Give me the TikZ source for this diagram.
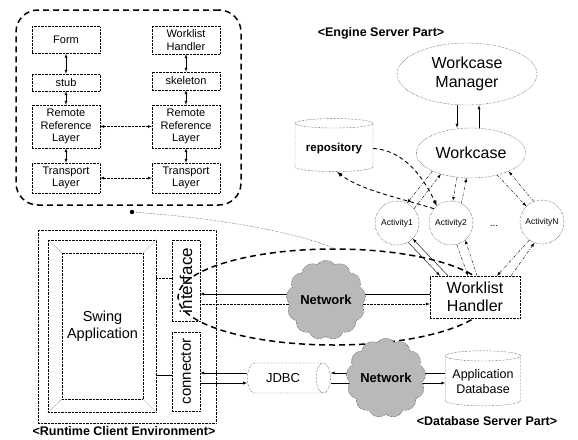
\documentclass[tikz,border=0pt]{standalone}
\usepackage{fontspec}
\setmainfont{Liberation Sans}
\usetikzlibrary{shapes.geometric,shapes.symbols,calc}
\NewDocumentCommand\fsz{mm}{\fontsize{#1}{#2}\selectfont}

\tikzset{
  box/.style={draw, densely dotted, align=center, inner sep=1pt},
  smallbox/.style={box, minimum width=68, font=\fsz{11}{12.5}},
  panel/.style={draw, line width=1.5pt, dash pattern=on 6pt off 4pt, rounded corners=22pt},
  flow/.style={->, dash pattern=on 3pt off 1.5pt on 0.8pt off 1.5pt},
  repoline/.style={->, line width=0.9pt, dash pattern=on 4pt off 3pt},
  act/.style={circle, draw, densely dotted, minimum size=44, inner sep=0pt, font=\fsz{8.5}{9}},
  dbcyl/.style={cylinder, shape border rotate=90, draw, densely dotted, aspect=0.15, align=center},
  net/.style={cloud, cloud puffs=13, cloud puff arc=110, draw, densely dotted, fill=gray!55, inner sep=0pt, font=\bfseries\fsz{13}{14}},
  tag/.style={font=\bfseries\fsz{12.5}{14}}
}

\begin{document}
\begin{tikzpicture}[>=latex, x=1pt, y=-1pt]
  \useasboundingbox (0,0) rectangle (578,439);

  % RMI layers
  \node[panel, minimum width=225, minimum height=195] (rmi) at (128.5,107.5) {};
  \node[smallbox, minimum height=27] (form) at (66,40) {Form};
  \node[smallbox, minimum height=17] (stub) at (66,82.5) {stub};
  \node[smallbox, minimum height=43] (rrl1) at (66,126.5) {Remote\\Reference\\Layer};
  \node[smallbox, minimum height=30] (tl1) at (66,178) {Transport\\Layer};
  \node[smallbox, minimum height=28] (wlh) at (186,40) {Worklist\\Handler};
  \node[smallbox, minimum height=18] (skel) at (186,81) {skeleton};
  \node[smallbox, minimum height=43] (rrl2) at (186,126.5) {Remote\\Reference\\Layer};
  \node[smallbox, minimum height=30] (tl2) at (186,178) {Transport\\Layer};
  \draw[<->] (form) -- (stub);
  \draw[<->] (stub) -- (rrl1);
  \draw[<->] (rrl1) -- (tl1);
  \draw[<->] (wlh) -- (skel);
  \draw[<->] (skel) -- (rrl2);
  \draw[<->] (rrl2) -- (tl2);
  \draw[<->, densely dotted] (rrl1) -- (rrl2);
  \draw[<->, densely dotted] (tl1) -- (tl2);

  % engine server
  \node[tag] (enginetag) at (381,33) {<Engine Server Part>};
  \node[ellipse, draw, densely dotted, minimum width=140, minimum height=62, align=center, font=\fsz{16}{19}] (wcm) at (467,74) {Workcase\\Manager};
  \node[ellipse, draw, densely dotted, minimum width=92, minimum height=50, font=\fsz{16}{19}] (wc) at (471,153) {Workcase};
  \node[dbcyl, minimum width=78, minimum height=53, font=\bfseries\fsz{11.5}{13}] (repo) at (334,148.5) {repository};
  \node[act] (a1) at (397,223) {Activity1};
  \node[act] (a2) at (451,223) {Activity2};
  \node[act] (an) at (542,222) {ActivityN};
  \node[font=\fsz{10}{11}] (dots) at (494,226) {...};
  \draw[->] ([xshift=-10pt]wcm.south) -- ([xshift=-14pt]wc.north);
  \draw[->] ([xshift=8pt]wc.north) -- ([xshift=12pt]wcm.south);
  \draw[flow] (wc.205) -- (a1.63);
  \draw[flow] (a1.40) -- (wc.215);
  \draw[flow] (wc.240) -- (a2.85);
  \draw[flow] (a2.62) -- (wc.260);
  \draw[flow] (wc.-40) -- (an.135);
  \draw[flow] (an.112) -- (wc.-26);
  \draw[repoline] (repo.east) .. controls (405,150) and (425,180) .. (a2.130);
  \draw[repoline] (a2.140) .. controls (400,198) and (360,190) .. ([xshift=3pt]repo.south);

  % runtime client
  \node[box, minimum width=178, minimum height=193] (client) at (127,326.5) {};
  \node[box, minimum width=108, minimum height=172] (swing) at (102,326) {};
  \node[box, minimum width=81, minimum height=146, font=\fsz{14.5}{17}] (swingin) at (102.5,326) {Swing\\Application};
  \draw[densely dotted] (swing.north west) -- (swingin.north west);
  \draw[densely dotted] (swing.north east) -- (swingin.north east);
  \draw[densely dotted] (swing.south west) -- (swingin.south west);
  \draw[densely dotted] (swing.south east) -- (swingin.south east);
  \node[box, minimum width=28, minimum height=81] (iface) at (186,280.5) {};
  \node[rotate=90, font=\fsz{17}{18}] (ifacelbl) at (iface) {interface};
  \node[box, minimum width=28, minimum height=79] (conn) at (186,371.5) {};
  \node[rotate=90, font=\fsz{15}{16}] (connlbl) at (conn) {connector};
  \draw[densely dotted] ([yshift=2.5pt]iface.west) -- ([yshift=2.5pt]iface.west -| swing.east);
  \draw ([yshift=-3.5pt]conn.west) -- ([yshift=-3.5pt]conn.west -| swing.east);
  \node[tag] (clienttag) at (124,431) {<Runtime Client Environment>};

  % remote call area
  \node[ellipse, minimum width=312, minimum height=96, draw, line width=1.5pt, dash pattern=on 6pt off 4pt] (remote) at (334,297) {};
  \filldraw (132,212) circle (2pt) coordinate (zoomdot);
  \draw[densely dotted] (zoomdot) .. controls (230,219) and (300,234) .. (remote.north);

  % worklist handler
  \node[box, fill=white, minimum width=90, minimum height=42, font=\fsz{16}{18}] (wh) at (475,297) {Worklist\\Handler};
  \draw[->] (a1.-60) -- ([xshift=-35pt]wh.north);
  \draw[->] ([xshift=-27pt]wh.north) -- (a1.-45);
  \draw[flow] (a2.-75) -- ([xshift=-7pt]wh.north);
  \draw[flow] ([xshift=2pt]wh.north) -- (a2.-50);
  \draw[flow] (an.235) -- ([xshift=22pt]wh.north);
  \draw[flow] ([xshift=36pt]wh.north) -- (an.-110);
  \draw[->] ([yshift=3pt]wh.west) -- ([yshift=3pt]wh.west -| iface.east);
  \draw[->, densely dotted] ([yshift=-7pt]wh.west -| iface.east) -- ([yshift=-7pt]wh.west);
  \node[net, minimum width=72, minimum height=68] (net1) at (326,300) {Network};

  % database server
  \node[cylinder, draw, densely dotted, aspect=0.9, minimum width=30, minimum height=83, font=\fsz{13}{14}] (jdbc) at (283,378) {JDBC};
  \node[dbcyl, minimum width=75, minimum height=55, font=\fsz{12.5}{15}] (appdb) at (483,382) {Application\\Database};
  \draw[->] ([yshift=5pt]jdbc.west) -- ([yshift=5pt]jdbc.west -| conn.east);
  \draw[->] ([yshift=-5pt]jdbc.west -| conn.east) -- ([yshift=-5pt]jdbc.west);
  \draw[->] ([yshift=5pt]jdbc.east -| appdb.west) -- ([yshift=5pt]jdbc.east);
  \draw[->] ([yshift=-5pt]jdbc.east) -- ([yshift=-5pt]jdbc.east -| appdb.west);
  \node[net, minimum width=68, minimum height=61] (net2) at (386,378) {Network};
  \node[tag] (dbtag) at (487,421) {<Database Server Part>};
\end{tikzpicture}
\end{document}
